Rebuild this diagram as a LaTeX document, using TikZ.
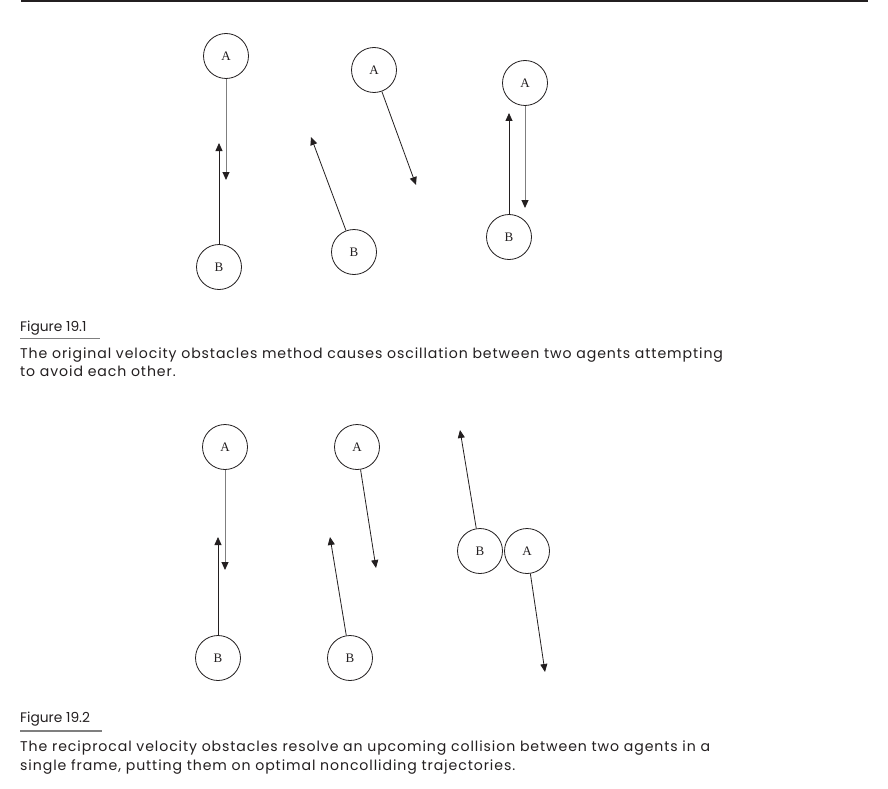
\documentclass[tikz,border=0pt]{standalone}
\usepackage{fontspec}
\setmainfont{Liberation Serif}
\newfontfamily\capfont{Poppins}
\newfontfamily\capfontwide[LetterSpace=6.5]{Poppins}
\usetikzlibrary{arrows.meta}
\definecolor{ink}{HTML}{231F20}
\definecolor{grayline}{HTML}{7F7F7F}
\tikzset{
  agent/.style={circle, draw=ink, line width=0.8pt, minimum size=45pt, inner sep=0pt, font=\fontsize{13}{13}\selectfont, text=ink},
  vel/.style={draw=ink, line width=0.8pt, -{Triangle[length=8pt,width=7pt]}},
  velg/.style={draw=grayline, line width=1pt, -{Triangle[length=8pt,width=7pt,color=ink,fill=ink]}},
  figlabel/.style={anchor=base west, inner sep=0pt, font=\capfont\fontsize{13.8}{16}\selectfont, text=ink},
  captext/.style={anchor=base west, inner sep=0pt, font=\capfontwide\fontsize{14.1}{16}\selectfont, text=ink}
}
\begin{document}
\begin{tikzpicture}[x=1pt,y=-1pt]
\useasboundingbox (0,0) rectangle (888,789);
\fill[white] (0,0) rectangle (888,789);
% top rule
\draw[ink, line width=2pt] (21,1) -- (868,1);

% ---------- Figure 19.1 ----------
\node[agent] (a11) at (226,56) {A};
\node[agent] (b11) at (219,267) {B};
\coordinate (ea11) at (226,180);
\coordinate (eb11) at (219,143);
\draw[velg] (a11) -- (ea11);
\draw[vel] (b11) -- (eb11);

\node[agent] (a12) at (374,70) {A};
\node[agent] (b12) at (354,252) {B};
\coordinate (ea12) at (416,185);
\coordinate (eb12) at (311,137);
\draw[vel] (a12) -- (ea12);
\draw[vel] (b12) -- (eb12);

\node[agent] (a13) at (525,83) {A};
\node[agent] (b13) at (509,237) {B};
\coordinate (ea13) at (525,208);
\coordinate (eb13) at (509,113);
\draw[velg] (a13) -- (ea13);
\draw[vel] (b13) -- (eb13);

\node[figlabel] (f1) at (20,331) {Figure 19.1};
\draw[grayline, line width=1.5pt] (20,338.5) -- (100,338.5);
\node[captext] (c1a) at (20,358) {The original velocity obstacles method causes oscillation between two agents attempting};
\node[captext] (c1b) at (20,376) {to avoid each other.};

% ---------- Figure 19.2 ----------
\node[agent] (a21) at (225,447) {A};
\node[agent] (b21) at (218,658) {B};
\coordinate (ea21) at (225,570);
\coordinate (eb21) at (218,537);
\draw[velg] (a21) -- (ea21);
\draw[vel] (b21) -- (eb21);

\node[agent] (a22) at (357,447) {A};
\node[agent] (b22) at (350,658) {B};
\coordinate (ea22) at (376,568);
\coordinate (eb22) at (330,537);
\draw[vel] (a22) -- (ea22);
\draw[vel] (b22) -- (eb22);

\node[agent] (b23) at (480,551) {B};
\node[agent] (a23) at (527,551) {A};
\coordinate (eb23) at (460,430);
\coordinate (ea23) at (545,672);
\draw[vel] (b23) -- (eb23);
\draw[vel] (a23) -- (ea23);

\node[figlabel] (f2) at (20,722) {Figure 19.2};
\draw[grayline, line width=1.5pt] (20,731) -- (102,731);
\node[captext] (c2a) at (20,751) {The reciprocal velocity obstacles resolve an upcoming collision between two agents in a};
\node[captext] (c2b) at (20,770) {single frame, putting them on optimal noncolliding trajectories.};
\end{tikzpicture}
\end{document}
